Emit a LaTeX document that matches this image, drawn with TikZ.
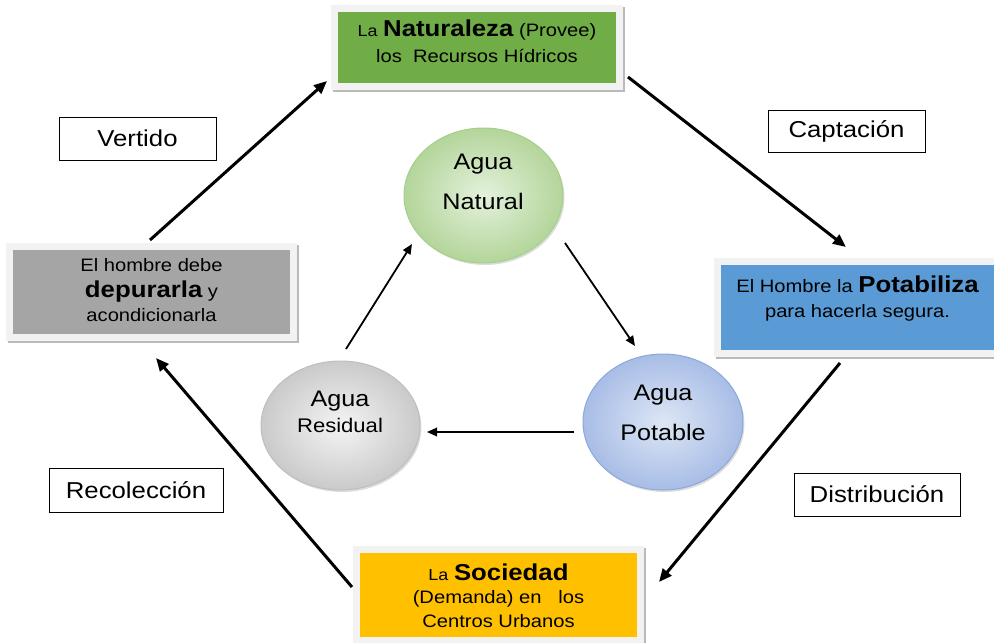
\documentclass[tikz,border=0pt]{standalone}
\usepackage{fontspec}
\setmainfont{Liberation Sans}[FakeStretch=1.12]
\usetikzlibrary{shapes.geometric,arrows.meta,shadows}
\definecolor{grn}{HTML}{70AD47}
\definecolor{gry}{HTML}{A5A5A5}
\definecolor{blu}{HTML}{5B9BD5}
\definecolor{yel}{HTML}{FFC000}
\definecolor{eGin}{HTML}{E4F1DC}
\definecolor{eGout}{HTML}{B3D59A}
\definecolor{eGdr}{HTML}{A6CF8A}
\definecolor{eBin}{HTML}{DDE6F5}
\definecolor{eBout}{HTML}{A8BDE6}
\definecolor{eBdr}{HTML}{8DA8DA}
\definecolor{eRin}{HTML}{F4F4F4}
\definecolor{eRout}{HTML}{CACACA}
\definecolor{eRdr}{HTML}{BEBEBE}
\newcommand{\BW}[1]{{\fontsize{23}{24}\selectfont\bfseries #1}}
\newcommand{\SM}[1]{{\fontsize{16}{24}\selectfont #1}}
\tikzset{
  framebox/.style={draw=black!5, line width=7pt, inner sep=0pt,
    drop shadow={fill=black!27, draw=black!27, line width=7pt, opacity=1,
      shadow xshift=2pt, shadow yshift=-2pt}},
  boxtext/.style={inner sep=0pt, align=center, font=\fontsize{18}{24}\selectfont},
  lbl/.style={draw=black, line width=0.8pt, fill=white, inner sep=0pt,
    font=\fontsize{23}{26}\selectfont},
  ell/.style={ellipse, inner sep=0pt, line width=1pt,
    drop shadow={fill=black!30, opacity=.45, shadow xshift=1.5pt, shadow yshift=-2pt}},
  elltext/.style={inner sep=0pt, align=center},
  bigarrow/.style={line width=3pt, -{Triangle[length=13pt,width=11pt]}},
  smallarrow/.style={line width=1.8pt, -{Triangle[length=10pt,width=8.5pt]}}
}
\begin{document}
\begin{tikzpicture}[x=1pt,y=-1pt]
\useasboundingbox (0,0) rectangle (994,643);

% main boxes
\node[framebox, fill=grn, minimum width=285pt, minimum height=78pt] (green) at (477,47.5) {};
\node[framebox, fill=gry, minimum width=284pt, minimum height=91pt] (gray) at (151.5,292) {};
\node[framebox, fill=blu, minimum width=286pt, minimum height=92pt] (blue) at (860.5,307.5) {};
\node[framebox, fill=yel, minimum width=284pt, minimum height=91pt] (yellow) at (498.5,595) {};

\node[boxtext, font=\fontsize{18}{26}\selectfont] (greentxt) at (477,41.75)
  {\SM{La} \BW{Naturaleza} (Provee)\\los\ \ Recursos Hídricos};
\node[boxtext] (graytxt) at (151.5,290.5)
  {El hombre debe\\[2pt]\BW{depurarla} y\\acondicionarla};
\node[boxtext, font=\fontsize{18}{25}\selectfont] (bluetxt) at (857.5,298.1)
  {El Hombre la \BW{Potabiliza}\\para hacerla segura.};
\node[boxtext] (yellowtxt) at (498.5,595.25)
  {\SM{La} \BW{Sociedad}\\[-1pt](Demanda) en\ \ \ los\\Centros Urbanos};

% labels
\node[lbl, minimum width=157pt, minimum height=43pt] (vertido) at (137.5,138.5) {Vertido};
\node[lbl, minimum width=157pt, minimum height=42pt] (captacion) at (846.5,131) {Captación};
\node[lbl, minimum width=174pt, minimum height=44pt] (recoleccion) at (136,490) {Recolección};
\node[lbl, minimum width=166pt, minimum height=43pt] (distribucion) at (877,494.5) {Distribución};

% ellipses
\node[ell, draw=eGdr, inner color=eGin, outer color=eGout, minimum width=159pt, minimum height=135pt] (nat) at (483.5,195.5) {};
\node[ell, draw=eBdr, inner color=eBin, outer color=eBout, minimum width=160pt, minimum height=136pt] (pot) at (663,422) {};
\node[ell, draw=eRdr, inner color=eRin, outer color=eRout, minimum width=159pt, minimum height=129pt] (res) at (340.5,425.5) {};

\node[elltext, font=\fontsize{22.5}{40}\selectfont] (nattxt) at (483,182) {Agua\\Natural};
\node[elltext, font=\fontsize{22.5}{40}\selectfont] (pottxt) at (663,413) {Agua\\Potable};
\node[elltext, font=\fontsize{22.5}{26}\selectfont] (restxt) at (340,412) {Agua\\{\fontsize{19.7}{26}\selectfont Residual}};

% outer cycle
\draw[bigarrow] ([shift={(-1.5,-52)}]gray.center) -- ([shift={(-150,33.5)}]green.center);
\draw[bigarrow] ([shift={(151,29.5)}]green.center) -- ([shift={(-14.5,-60.5)}]blue.center);
\draw[bigarrow] ([shift={(-20.5,55.5)}]blue.center) -- ([shift={(160.5,-13)}]yellow.center);
\draw[bigarrow] ([shift={(-146.5,-8)}]yellow.center) -- ([shift={(4.5,66)}]gray.center);

% inner cycle
\draw[smallarrow] ([shift={(5.5,-76.5)}]res.center) -- ([shift={(-71.5,48.5)}]nat.center);
\draw[smallarrow] ([shift={(81.5,47.5)}]nat.center) -- ([shift={(-28,-76)}]pot.center);
\draw[smallarrow] ([shift={(-89,10)}]pot.center) -- ([shift={(86.5,6.5)}]res.center);
\end{tikzpicture}
\end{document}
